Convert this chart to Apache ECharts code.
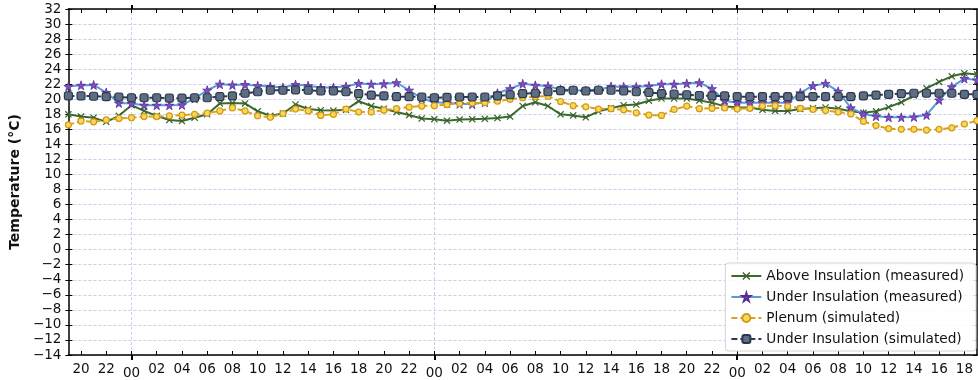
<!DOCTYPE html>
<html>
<head>
<meta charset="utf-8">
<script src="https://cdn.jsdelivr.net/npm/echarts@6/dist/echarts.min.js"></script>
<style>
  html, body { margin: 0; padding: 0; background: #ffffff; }
  #chart { width: 978px; height: 380px; }
</style>
</head>
<body>
<div id="chart"></div>
<script>
// Hourly samples, first one at 19:00 on day 0 (hour values continue past 24 across days)
const startHour = 19;

const aboveMeasured = [
  18.0, 17.7, 17.55, 17.0, 17.8, 19.2, 18.45, 17.8, 17.25, 17.1,
  17.55, 18.0, 19.45, 19.5, 19.45, 18.4, 17.8, 18.1, 19.3, 18.7,
  18.55, 18.5, 18.6, 19.75, 19.1, 18.75, 18.3, 17.9, 17.45, 17.35,
  17.15, 17.3, 17.35, 17.4, 17.5, 17.7, 19.1, 19.6, 19.1, 18.0,
  17.85, 17.6, 18.4, 18.8, 19.2, 19.3, 19.8, 20.1, 20.1, 20.1,
  19.85, 19.55, 19.05, 18.95, 18.9, 18.6, 18.45, 18.45, 18.7, 18.8,
  18.9, 18.75, 18.4, 18.2, 18.4, 18.95, 19.6, 20.5, 21.45, 22.3,
  23.05, 23.45, 23.3
];

const underMeasured = [
  21.7, 21.85, 21.9, 20.9, 19.5, 19.45, 19.2, 19.2, 19.2, 19.25,
  20.1, 21.2, 22.0, 21.9, 21.95, 21.8, 21.7, 21.55, 21.95, 21.8,
  21.55, 21.55, 21.7, 22.1, 22.0, 22.05, 22.2, 21.2, 20.1, 19.6,
  19.5, 19.4, 19.35, 19.6, 20.8, 21.4, 22.05, 21.85, 21.75, 21.3,
  21.2, 21.15, 21.25, 21.7, 21.65, 21.65, 21.75, 22.0, 22.0, 22.1,
  22.2, 21.4, 19.8, 19.55, 19.55, 19.55, 19.55, 19.55, 20.85, 21.8,
  22.1, 21.05, 18.85, 18.05, 17.75, 17.6, 17.6, 17.65, 17.9, 19.9,
  21.65, 22.75, 22.55
];

const plenumSimulated = [
  16.6, 17.1, 17.0, 17.25, 17.45, 17.55, 17.7, 17.7, 17.8, 17.9,
  18.0, 18.15, 18.45, 18.85, 18.45, 17.8, 17.6, 18.1, 18.7, 18.45,
  17.85, 18.0, 18.7, 18.3, 18.3, 18.55, 18.75, 18.95, 19.1, 19.15,
  19.3, 19.45, 19.5, 19.55, 19.75, 20.0, 20.2, 20.35, 20.4, 19.7,
  19.15, 19.0, 18.7, 18.75, 18.6, 18.2, 17.9, 17.85, 18.65, 19.1,
  18.75, 18.8, 18.85, 18.7, 18.8, 19.1, 19.15, 19.05, 18.8, 18.65,
  18.5, 18.3, 18.05, 17.05, 16.5, 16.1, 16.0, 16.0, 15.9, 16.0,
  16.2, 16.7, 17.15
];

const underSimulated = [
  20.45, 20.45, 20.4, 20.35, 20.3, 20.2, 20.2, 20.2, 20.15, 20.15,
  20.2, 20.2, 20.35, 20.45, 20.8, 21.0, 21.2, 21.2, 21.25, 21.2,
  21.1, 21.1, 21.0, 20.75, 20.55, 20.45, 20.35, 20.35, 20.3, 20.2,
  20.25, 20.3, 20.3, 20.3, 20.45, 20.6, 20.75, 20.8, 21.0, 21.15,
  21.2, 21.1, 21.2, 21.2, 21.1, 21.0, 20.9, 20.75, 20.7, 20.6,
  20.5, 20.45, 20.45, 20.35, 20.35, 20.35, 20.35, 20.35, 20.35, 20.35,
  20.35, 20.35, 20.35, 20.45, 20.55, 20.65, 20.75, 20.8, 20.8, 20.8,
  20.8, 20.65, 20.65
];

// Tick positions on the time axis (hours), every two hours
const tickHours = [20, 22, 24, 26, 28, 30, 32, 34, 36, 38, 40, 42, 44, 46, 48,
  50, 52, 54, 56, 58, 60, 62, 64, 66, 68, 70, 72, 74, 76, 78, 80, 82, 84, 86, 88, 90];
// Midnights get the major tick, label and vertical grid line
const midnightHours = [24, 48, 72];

const seriesNames = [
  'Above Insulation (measured)',
  'Under Insulation (measured)',
  'Plenum (simulated)',
  'Under Insulation (simulated)'
];

const xMin = startHour;
const xMax = startHour + aboveMeasured.length - 1;

const FONT = '"DejaVu Sans", "Liberation Sans", sans-serif';
const GRID_COLOR = '#c2c2ec';

const toPoints = arr => arr.map((v, i) => [startHour + i, v]);

const crossPath = 'path://M0,1.2L1.2,0L5,3.8L8.8,0L10,1.2L6.2,5L10,8.8L8.8,10L5,6.2L1.2,10L0,8.8L3.8,5Z';
const starPath = 'path://M50,0L61,35L98,35L68,57L79,91L50,70L21,91L32,57L2,35L39,35Z';

function hourLabel(v) {
  const h = ((v % 24) + 24) % 24;
  const s = (h < 10 ? '0' : '') + h;
  return h === 0 ? '{maj|' + s + '}' : s;
}

const baseX = {
  type: 'value',
  min: xMin,
  max: xMax,
  splitLine: { show: false },
  axisLabel: { show: false },
  axisLine: { show: false, onZero: false },
  axisTick: { show: false }
};

const baseY = {
  type: 'value',
  min: -14,
  max: 32,
  interval: 2,
  splitLine: { show: false },
  axisLabel: { show: false },
  axisLine: { show: false, onZero: false },
  axisTick: { show: false }
};

const option = {
  animation: false,
  backgroundColor: '#ffffff',
  grid: { left: 68, right: 1, top: 9, bottom: 24, containLabel: false },
  xAxis: [
    Object.assign({}, baseX, {
      position: 'bottom',
      axisLine: { show: true, onZero: false, lineStyle: { color: '#000', width: 1.5 } },
      axisTick: { show: true, inside: true, length: 4, customValues: tickHours,
        lineStyle: { color: '#000', width: 1 } },
      axisLabel: {
        show: true, customValues: tickHours, margin: 7,
        color: '#111', fontFamily: FONT, fontSize: 13.5,
        formatter: hourLabel,
        rich: { maj: { color: '#111', fontFamily: FONT, fontSize: 13.5, padding: [4, 0, 0, 0] } }
      }
    }),
    Object.assign({}, baseX, {
      position: 'bottom',
      axisTick: { show: true, inside: false, length: 5, customValues: midnightHours,
        lineStyle: { color: '#000', width: 2 } }
    }),
    Object.assign({}, baseX, {
      position: 'top',
      axisLine: { show: true, onZero: false, lineStyle: { color: '#000', width: 1.5 } },
      axisTick: { show: true, inside: true, length: 4, customValues: tickHours,
        lineStyle: { color: '#000', width: 1 } }
    }),
    Object.assign({}, baseX, {
      position: 'top',
      axisTick: { show: true, inside: false, length: 4, customValues: midnightHours,
        lineStyle: { color: '#000', width: 2 } }
    })
  ],
  yAxis: [
    Object.assign({}, baseY, {
      position: 'left',
      name: 'Temperature (°C)',
      nameLocation: 'middle',
      nameGap: 37,
      nameTextStyle: { color: '#111', fontFamily: FONT, fontSize: 14, fontWeight: 'bold' },
      axisLine: { show: true, onZero: false, lineStyle: { color: '#000', width: 1.5 } },
      axisTick: { show: true, inside: false, length: 3, lineStyle: { color: '#000', width: 1 } },
      axisLabel: {
        show: true, margin: 7, color: '#111', fontFamily: FONT, fontSize: 13.5,
        formatter: v => String(v).replace('-', '\u2212')
      },
      splitLine: { show: true, lineStyle: { color: GRID_COLOR, width: 0.8, type: [3, 2] } }
    }),
    Object.assign({}, baseY, {
      position: 'left',
      axisTick: { show: true, inside: true, length: 4, lineStyle: { color: '#000', width: 1 } }
    }),
    Object.assign({}, baseY, {
      position: 'right',
      axisLine: { show: true, onZero: false, lineStyle: { color: '#000', width: 1.5 } },
      axisTick: { show: true, inside: true, length: 4, lineStyle: { color: '#000', width: 1 } }
    })
  ],
  legend: {
    right: 2,
    bottom: 29,
    orient: 'vertical',
    itemWidth: 30,
    itemHeight: 10,
    itemGap: 7,
    padding: [6, 12, 5, 5],
    backgroundColor: 'rgba(255,255,255,0.85)',
    borderColor: '#d4d4d4',
    borderWidth: 1,
    borderRadius: 3,
    textStyle: { color: '#111', fontFamily: FONT, fontSize: 13.7 },
    data: seriesNames
  },
  series: [
    {
      name: seriesNames[0],
      type: 'line',
      data: toPoints(aboveMeasured),
      symbol: crossPath,
      symbolSize: 7,
      lineStyle: { color: '#3d6a2c', width: 2 },
      itemStyle: { color: '#36612a' },
      z: 2,
      markLine: {
        silent: true,
        symbol: ['none', 'none'],
        label: { show: false },
        lineStyle: { color: GRID_COLOR, width: 0.8, type: [3, 2] },
        emphasis: { disabled: true },
        z: 0,
        data: midnightHours.map(h => ({ xAxis: h }))
      }
    },
    {
      name: seriesNames[1],
      type: 'line',
      data: toPoints(underMeasured),
      symbol: starPath,
      symbolSize: 9,
      lineStyle: { color: '#5b9bd5', width: 2 },
      itemStyle: { color: '#7c4fc2', borderColor: '#552c98', borderWidth: 0.8 },
      z: 3
    },
    {
      name: seriesNames[2],
      type: 'line',
      data: toPoints(plenumSimulated),
      symbol: 'circle',
      symbolSize: 6,
      lineStyle: { color: '#d9a21c', width: 2, type: [6, 3] },
      itemStyle: { color: '#f6d860', borderColor: '#d49b12', borderWidth: 1.2 },
      z: 4
    },
    {
      name: seriesNames[3],
      type: 'line',
      data: toPoints(underSimulated),
      symbol: 'roundRect',
      symbolSize: 8,
      lineStyle: { color: '#2c3b52', width: 2, type: [6, 3] },
      itemStyle: { color: '#5e6d82', borderColor: '#2a384c', borderWidth: 1.2 },
      z: 5
    }
  ]
};

const chart = echarts.init(document.getElementById('chart'), null, { renderer: 'canvas' });
chart.setOption(option);
</script>
</body>
</html>
